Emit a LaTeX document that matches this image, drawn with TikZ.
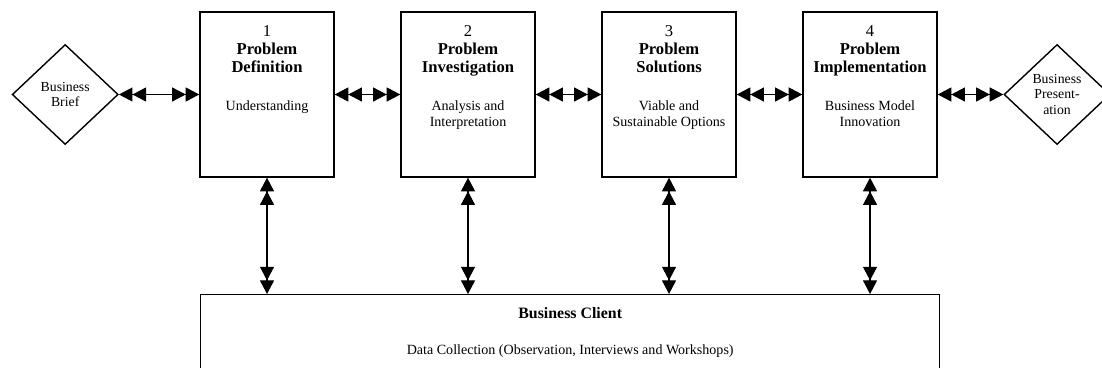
\documentclass[tikz,border=0pt]{standalone}
\usepackage{fontspec}
\setmainfont{Liberation Serif}
\usetikzlibrary{positioning,arrows.meta,shapes.geometric}

\tikzset{doble/.tip={Triangle[length=3.4mm,width=3.5mm] Triangle[length=3.4mm,width=3.5mm]}}

\begin{document}
\begin{tikzpicture}[x=0.25mm, y=-0.25mm,
  fase/.style={draw, line width=1pt, minimum width=33.5mm, minimum height=41.25mm, inner sep=0pt},
  rombo/.style={draw, diamond, line width=1pt, minimum width=26.5mm, minimum height=25mm,
    inner sep=0pt, align=center, font=\fontsize{9.8}{11.3}\selectfont},
  titulo/.style={anchor=north, align=center, inner sep=0pt, font=\fontsize{11.8}{12.8}\selectfont},
  texto/.style={anchor=north, align=center, inner sep=0pt, font=\fontsize{10}{11.3}\selectfont},
  flecha/.style={doble-doble, line width=0.8pt}]
  \useasboundingbox (0,0) rectangle (1102,368);
  \clip (0,0) rectangle (1102,368);
  \node[fase] (def) at (267,94.5) {};
  \node[fase, right=16.4mm of def] (inv) {};
  \node[fase, right=16.4mm of inv] (sol) {};
  \node[fase, right=16.4mm of sol] (imp) {};
  \node[rombo, left=20.1mm of def] (brief) {Business\\Brief};
  \node[rombo, right=16.4mm of imp] (pres) {Business\\Present-\\ation};
  \node[draw, line width=1pt, inner sep=0pt, anchor=north west,
    minimum width=184.75mm, minimum height=30mm] (cliente) at (200,294) {};
  \node[titulo] at ([yshift=-3.5mm]def.north) {1\\\textbf{Problem}\\\textbf{Definition}};
  \node[titulo] at ([yshift=-3.5mm]inv.north) {2\\\textbf{Problem}\\\textbf{Investigation}};
  \node[titulo] at ([yshift=-3.5mm]sol.north) {3\\\textbf{Problem}\\\textbf{Solutions}};
  \node[titulo] at ([yshift=-3.5mm]imp.north) {4\\\textbf{Problem}\\\textbf{Implementation}};
  \node[texto] at ([yshift=-22.3mm]def.north) {Understanding};
  \node[texto] at ([yshift=-22.3mm]inv.north) {Analysis and\\Interpretation};
  \node[texto] at ([yshift=-22.3mm]sol.north) {Viable and\\Sustainable Options};
  \node[texto] at ([yshift=-22.3mm]imp.north) {Business Model\\Innovation};
  \node[titulo, font=\fontsize{11.3}{12.8}\selectfont\bfseries] at ([yshift=-3.4mm]cliente.north) {Business Client};
  \node[texto] at ([yshift=-12.5mm]cliente.north) {Data Collection (Observation, Interviews and Workshops)};
  \draw[flecha] (brief) -- (def);
  \draw[flecha] (def) -- (inv);
  \draw[flecha] (inv) -- (sol);
  \draw[flecha] (sol) -- (imp);
  \draw[flecha] (imp) -- (pres);
  \draw[flecha] (def.south) -- (def.south |- cliente.north);
  \draw[flecha] (inv.south) -- (inv.south |- cliente.north);
  \draw[flecha] (sol.south) -- (sol.south |- cliente.north);
  \draw[flecha] (imp.south) -- (imp.south |- cliente.north);
\end{tikzpicture}
\end{document}
